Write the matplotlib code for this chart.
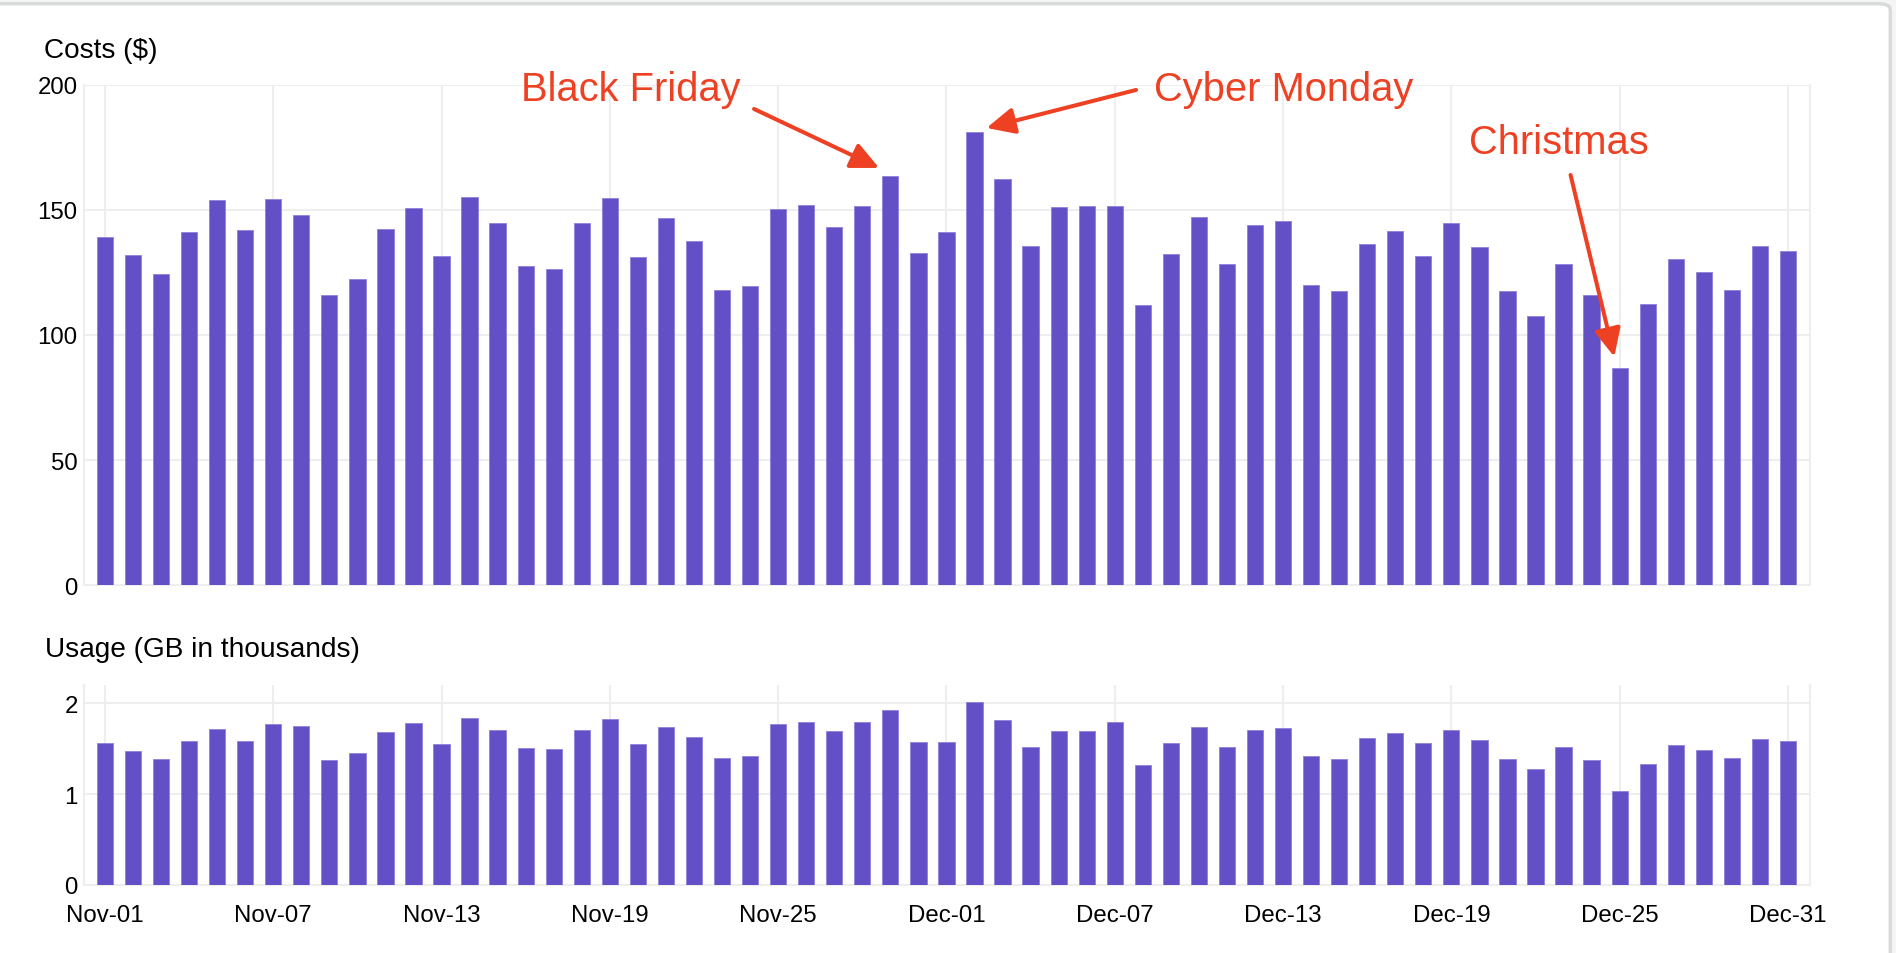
import matplotlib.pyplot as plt
from matplotlib.patches import FancyBboxPatch

plt.rcParams['font.family'] = ['Liberation Sans', 'DejaVu Sans']

# daily data, Nov-01 .. Dec-31
days = ['Nov-%02d' % d for d in range(1, 31)] + ['Dec-%02d' % d for d in range(1, 32)]
costs = [139.2, 132.0, 124.2, 141.3, 154.1, 142.0, 154.4, 148.1, 115.9, 122.5,
         142.3, 150.8, 131.4, 155.1, 144.7, 127.7, 126.3, 144.7, 154.8, 131.1,
         146.7, 137.5, 118.1, 119.4, 150.2, 151.8, 143.0, 151.6, 163.4, 132.6,
         141.0, 181.0, 162.5, 135.5, 151.1, 151.5, 151.5, 111.8, 132.2, 147.2,
         128.3, 144.0, 145.6, 119.8, 117.5, 136.4, 141.7, 131.7, 144.7, 135.1,
         117.5, 107.4, 128.3, 115.8, 87.0, 112.3, 130.3, 125.1, 118.1, 135.5,
         133.7]
usage = [1.557, 1.473, 1.385, 1.579, 1.718, 1.582, 1.766, 1.747, 1.370, 1.447,
         1.681, 1.780, 1.553, 1.835, 1.707, 1.509, 1.491, 1.707, 1.828, 1.549,
         1.736, 1.623, 1.392, 1.414, 1.773, 1.791, 1.689, 1.791, 1.930, 1.568,
         1.575, 2.018, 1.810, 1.513, 1.689, 1.692, 1.788, 1.319, 1.560, 1.736,
         1.516, 1.700, 1.722, 1.418, 1.388, 1.612, 1.670, 1.557, 1.707, 1.593,
         1.388, 1.271, 1.520, 1.370, 1.033, 1.330, 1.538, 1.480, 1.392, 1.601,
         1.579]
tick_idx = list(range(0, 61, 6))
cost_ticks = [0, 50, 100, 150, 200]
usage_ticks = [0, 1, 2]

# (label, text x, text baseline y, arrow tail, arrow tip) in data coords
notes = [
    ('Black Friday', 18.76, 193.8, (23.14, 190.4), (27.6, 166.8)),
    ('Cyber Monday', 42.03, 193.8, (36.76, 198.0), (31.43, 182.8)),
    ('Christmas', 51.83, 172.7, (52.25, 164.0), (53.81, 91.3)),
]

BAR = '#634FC6'
EDGE = '#8F80DA'
RED = '#EE4124'
GRID = '#EEEEEE'

fig = plt.figure(figsize=(18.96, 9.54), dpi=100)

# card border like the screenshot
card = FancyBboxPatch((-0.02, -0.05), 1.017, 1.045, boxstyle='round,pad=0,rounding_size=0.006',
                      transform=fig.transFigure, facecolor='white', edgecolor='#D8DBDA',
                      lw=2.5, zorder=-10)
fig.patches.append(card)

ax1 = fig.add_axes([0.04415, 0.3857, 0.9107, 0.5242])
ax2 = fig.add_axes([0.04415, 0.0713, 0.9107, 0.2096])

x = list(range(len(days)))
for ax, vals, yt, ytop in [(ax1, costs, cost_ticks, 200), (ax2, usage, usage_ticks, 2.2)]:
    ax.set_facecolor('none')
    ax.bar(x, vals, width=0.58, color=BAR, edgecolor=EDGE, linewidth=0.6, zorder=3)
    ax.set_xlim(-0.756, 60.8)
    ax.set_ylim(0, ytop)
    ax.set_yticks(yt)
    ax.set_xticks(tick_idx)
    ax.grid(True, color=GRID, lw=1.5, zorder=0)
    for s in ['left', 'right', 'bottom']:
        ax.spines[s].set_color(GRID)
        ax.spines[s].set_linewidth(1.5)
    ax.spines['top'].set_visible(False)
    ax.tick_params(length=0, labelsize=17.3, colors='black')
    ax.tick_params(axis='y', pad=4.3)
    ax.tick_params(axis='x', pad=14)

ax1.set_xticklabels([])
ax2.set_xticklabels([days[i] for i in tick_idx])

fig.text(44 / 1896, 1 - 58 / 954, 'Costs ($)', fontsize=20.2, ha='left', va='baseline')
fig.text(45 / 1896, 1 - 657 / 954, 'Usage (GB in thousands)', fontsize=20.2, ha='left', va='baseline')

for label, tx, ty, tail, tip in notes:
    ax1.text(tx, ty, label, color=RED, fontsize=28.7, ha='center', va='baseline',
             clip_on=False, zorder=5)
    ax1.annotate('', xy=tip, xytext=tail, annotation_clip=False,
                 arrowprops=dict(arrowstyle='-|>,head_length=0.85,head_width=0.4',
                                 color=RED, lw=2.9, mutation_scale=20,
                                 shrinkA=0, shrinkB=0), zorder=5)

fig.savefig('out.png', dpi=100, facecolor='#F4F5F4')
